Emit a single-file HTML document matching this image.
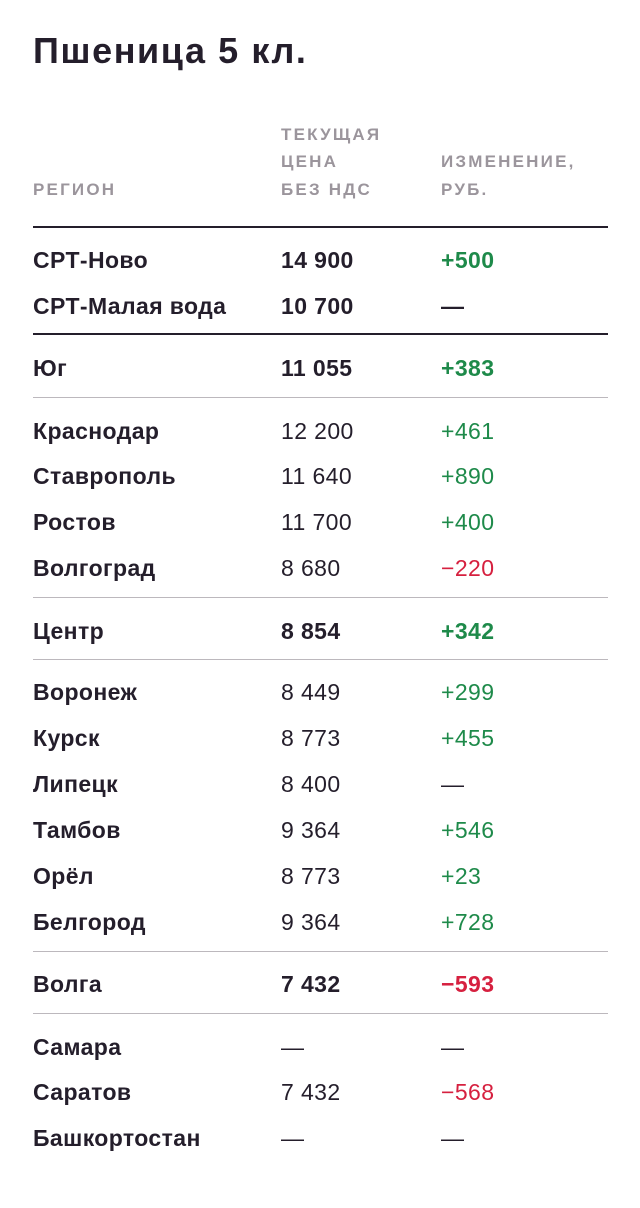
<!DOCTYPE html>
<html><head><meta charset="utf-8"><style>
body{margin:0;width:640px;height:1208px;background:#fff;position:relative;font-family:"Liberation Sans",sans-serif;color:#241e2b;overflow:hidden}
.t{position:absolute;left:33px;top:31px;font-size:36px;font-weight:bold;line-height:40px;letter-spacing:1.6px}
.h{position:absolute;font-size:17px;line-height:20px;letter-spacing:2.2px;color:#9b959c;font-weight:bold}
.r{position:absolute;left:0;width:640px;height:30px;line-height:30px;font-size:23px;letter-spacing:0.4px}
.r span{position:absolute}
.a{left:33px;font-weight:bold}.b{left:281px}.c{left:441px}
.B{font-weight:bold}
.g{color:#1e8a4a}.d{color:#d6203f}
.l{position:absolute;left:33px;width:575px;height:1px;background:#bcb8bd}
.k{height:2px;background:#241e2b}
</style></head><body>
<div class="t">Пшеница 5 кл.</div>
<div class="h" style="left:33px;top:180px">РЕГИОН</div>
<div class="h" style="left:281px;top:125px">ТЕКУЩАЯ</div>
<div class="h" style="left:281px;top:152px">ЦЕНА</div>
<div class="h" style="left:281px;top:180px">БЕЗ НДС</div>
<div class="h" style="left:441px;top:152px">ИЗМЕНЕНИЕ,</div>
<div class="h" style="left:441px;top:180px">РУБ.</div>
<div class="l k" style="top:226px"></div>
<div class="r" style="top:245px"><span class="a">СРТ-Ново</span><span class="b B">14 900</span><span class="c B g">+500</span></div>
<div class="r" style="top:291px"><span class="a">СРТ-Малая вода</span><span class="b B">10 700</span><span class="c B">—</span></div>
<div class="l k" style="top:333px"></div>
<div class="r" style="top:353px"><span class="a">Юг</span><span class="b B">11 055</span><span class="c B g">+383</span></div>
<div class="l" style="top:397px"></div>
<div class="r" style="top:416px"><span class="a">Краснодар</span><span class="b">12 200</span><span class="c g">+461</span></div>
<div class="r" style="top:461px"><span class="a">Ставрополь</span><span class="b">11 640</span><span class="c g">+890</span></div>
<div class="r" style="top:507px"><span class="a">Ростов</span><span class="b">11 700</span><span class="c g">+400</span></div>
<div class="r" style="top:553px"><span class="a">Волгоград</span><span class="b">8 680</span><span class="c d">−220</span></div>
<div class="l" style="top:597px"></div>
<div class="r" style="top:616px"><span class="a">Центр</span><span class="b B">8 854</span><span class="c B g">+342</span></div>
<div class="l" style="top:659px"></div>
<div class="r" style="top:677px"><span class="a">Воронеж</span><span class="b">8 449</span><span class="c g">+299</span></div>
<div class="r" style="top:723px"><span class="a">Курск</span><span class="b">8 773</span><span class="c g">+455</span></div>
<div class="r" style="top:769px"><span class="a">Липецк</span><span class="b">8 400</span><span class="c">—</span></div>
<div class="r" style="top:815px"><span class="a">Тамбов</span><span class="b">9 364</span><span class="c g">+546</span></div>
<div class="r" style="top:861px"><span class="a">Орёл</span><span class="b">8 773</span><span class="c g">+23</span></div>
<div class="r" style="top:907px"><span class="a">Белгород</span><span class="b">9 364</span><span class="c g">+728</span></div>
<div class="l" style="top:951px"></div>
<div class="r" style="top:969px"><span class="a">Волга</span><span class="b B">7 432</span><span class="c B d">−593</span></div>
<div class="l" style="top:1013px"></div>
<div class="r" style="top:1032px"><span class="a">Самара</span><span class="b">—</span><span class="c">—</span></div>
<div class="r" style="top:1077px"><span class="a">Саратов</span><span class="b">7 432</span><span class="c d">−568</span></div>
<div class="r" style="top:1123px"><span class="a">Башкортостан</span><span class="b">—</span><span class="c">—</span></div>
</body></html>
